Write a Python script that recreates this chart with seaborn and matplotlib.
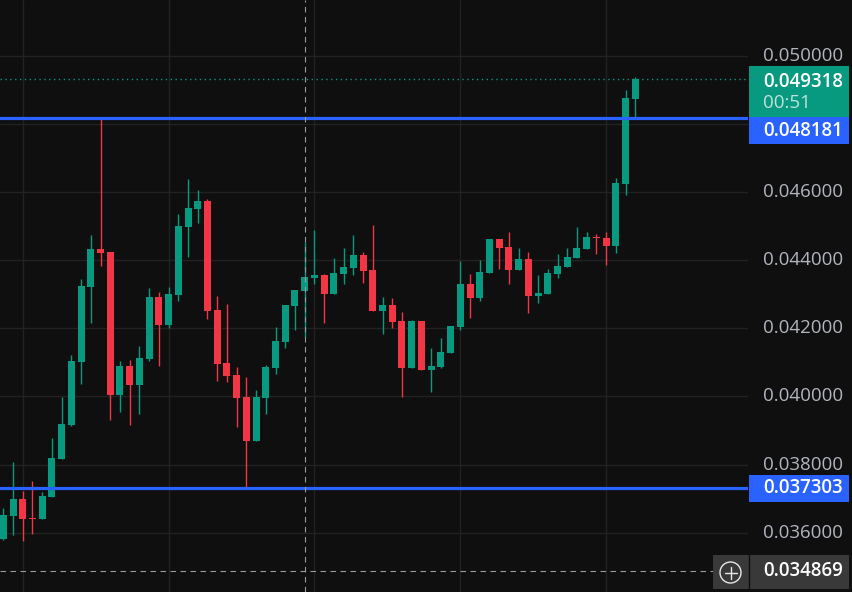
import matplotlib
matplotlib.use("Agg")
import matplotlib.pyplot as plt
from matplotlib.patches import Rectangle, Circle
import seaborn as sns
import numpy as np
import pandas as pd

# ---------------- data ----------------
opens = [0.035815, 0.036491, 0.036990, 0.036432, 0.036403, 0.037049, 0.038165, 0.039163, 0.041014, 0.043216,
         0.044332, 0.044244, 0.040044, 0.040896, 0.040338, 0.041102, 0.042923, 0.042100, 0.042981, 0.044978,
         0.045507, 0.045742, 0.042541, 0.040984, 0.040632, 0.039986, 0.038693, 0.039956, 0.040837, 0.041601,
         0.042658, 0.043099, 0.043481, 0.043569, 0.043011, 0.043598, 0.043774, 0.044156, 0.043716, 0.042511,
         0.042688, 0.042218, 0.040837, 0.042218, 0.040779, 0.040867, 0.041278, 0.042041, 0.043304, 0.042893,
         0.043627, 0.044626, 0.044391, 0.043716, 0.044039, 0.042952, 0.043011, 0.043598, 0.043804, 0.044068,
         0.044332, 0.044685, 0.044655, 0.044420, 0.046241, 0.048738]
highs = [0.036726, 0.038077, 0.037225, 0.037519, 0.037196, 0.038782, 0.039986, 0.041219, 0.043451, 0.044743,
         0.048181, 0.044244, 0.041043, 0.041072, 0.041484, 0.043187, 0.043069, 0.043216, 0.045360, 0.046388,
         0.046065, 0.045801, 0.042952, 0.042717, 0.040867, 0.040573, 0.040191, 0.040925, 0.042041, 0.042688,
         0.043128, 0.044538, 0.044890, 0.043598, 0.044068, 0.044362, 0.044743, 0.044244, 0.045037, 0.042923,
         0.042893, 0.042482, 0.042247, 0.042218, 0.041425, 0.041718, 0.042071, 0.043980, 0.043598, 0.044009,
         0.044626, 0.044626, 0.044832, 0.044362, 0.044244, 0.043569, 0.043745, 0.044185, 0.044362, 0.044978,
         0.044832, 0.044773, 0.044832, 0.046417, 0.049002, 0.049384]
lows = [0.035786, 0.035933, 0.035757, 0.035962, 0.036403, 0.037049, 0.038165, 0.039134, 0.040368, 0.042159,
        0.043833, 0.039310, 0.039545, 0.039163, 0.039486, 0.041043, 0.040896, 0.042012, 0.042805, 0.044097,
        0.045096, 0.042276, 0.040456, 0.040426, 0.039105, 0.037303, 0.038693, 0.039486, 0.040661, 0.041425,
        0.041953, 0.041748, 0.043304, 0.042159, 0.043011, 0.043304, 0.043569, 0.043334, 0.042511, 0.041836,
        0.042012, 0.039986, 0.040837, 0.040779, 0.040133, 0.040837, 0.041278, 0.041953, 0.042306, 0.042805,
        0.043627, 0.043745, 0.043304, 0.043716, 0.042453, 0.042746, 0.043011, 0.043481, 0.043804, 0.044068,
        0.044332, 0.044185, 0.043862, 0.044215, 0.045918, 0.048180]
closes = [0.036520, 0.036990, 0.036403, 0.036403, 0.037078, 0.038194, 0.039193, 0.041043, 0.043246, 0.044332,
          0.044215, 0.040044, 0.040896, 0.040338, 0.041131, 0.042923, 0.042100, 0.043011, 0.045008, 0.045536,
          0.045742, 0.042511, 0.040955, 0.040602, 0.039956, 0.038693, 0.039986, 0.040867, 0.041630, 0.042688,
          0.043128, 0.043510, 0.043569, 0.043011, 0.043627, 0.043804, 0.044156, 0.043686, 0.042511, 0.042688,
          0.042188, 0.040837, 0.042218, 0.040779, 0.040896, 0.041307, 0.042071, 0.043304, 0.042893, 0.043657,
          0.044626, 0.044362, 0.043716, 0.044039, 0.042952, 0.043040, 0.043627, 0.043833, 0.044097, 0.044362,
          0.044685, 0.044655, 0.044420, 0.046271, 0.048767, 0.049318]

y_ticks = [0.036, 0.038, 0.040, 0.042, 0.044, 0.046, 0.048, 0.050]
resistance = 0.048181
support = 0.037303
last_price = 0.049318
cross_price = 0.034869
countdown = "00:51"

# ---------------- style ----------------
BG = "#0f0f0f"
GRID = "#222222"
UP = "#089981"
DOWN = "#F23645"
BLUE = "#2962FF"
LABEL = "#B2B5BE"

sns.set_theme(style="dark", rc={"axes.facecolor": BG, "figure.facecolor": BG,
                                "axes.edgecolor": BG})
plt.rcParams["font.family"] = ["Open Sans", "DejaVu Sans"]

df = pd.DataFrame({"open": opens, "high": highs, "low": lows, "close": closes})
df["idx"] = np.arange(len(df))
df["up"] = df["close"] >= df["open"]

W, H = 852, 592
AX_W = 748
fig = plt.figure(figsize=(W / 100, H / 100), dpi=100)
ax = fig.add_axes([0, 0, AX_W / W, 1])

ymin, ymax = 0.034258, 0.051645
xmin, xmax = -0.339, 76.59
ax.set_xlim(xmin, xmax)
ax.set_ylim(ymin, ymax)
ppu = H / (ymax - ymin)  # pixels per price unit

# grid
for t in y_ticks:
    ax.axhline(t, color=GRID, lw=1.0, zorder=0)
for gx in [2, 17, 32, 47, 62]:
    ax.axvline(gx, color=GRID, lw=1.0, zorder=0)

# candles
colors = np.where(df["up"], UP, DOWN)
ax.vlines(df["idx"], df["low"], df["high"], colors=colors, lw=1.0, zorder=2)
body_bottom = np.minimum(df["open"], df["close"])
body_h = np.maximum(np.abs(df["close"] - df["open"]), 1.3 / ppu)
ax.bar(df["idx"], body_h, bottom=body_bottom, width=0.72, color=colors, linewidth=0, zorder=3)

# horizontal levels
ax.axhline(resistance, color=BLUE, lw=2.3, zorder=4)
ax.axhline(support, color=BLUE, lw=2.3, zorder=4)
ax.axhline(last_price, color=UP, lw=1.0, ls=(0, (1, 2.5)), zorder=1)

# crosshair
ax.axvline(31.0, color="#9a9a9a", lw=0.8, ls=(0, (5, 4)), zorder=5)
ax.plot([xmin, xmin + (713 / AX_W) * (xmax - xmin)], [cross_price, cross_price],
        color="#9a9a9a", lw=0.8, ls=(0, (5, 4)), zorder=5)

ax.set_xticks([])
ax.set_yticks([])
for s in ax.spines.values():
    s.set_visible(False)


# ---------------- right price scale ----------------
def fy(p):
    return (p - ymin) / (ymax - ymin)


def fx(px):
    return px / W


TX = fx(843)
FS = 13.5
for t in y_ticks:
    if abs(t - 0.048) < 1e-9:
        continue
    fig.text(TX, fy(t), f"{t:.6f}", color=LABEL, fontsize=FS, ha="right", va="center")

# last-price box (green) with countdown
top_g = 66
bot_g = 117
fig.patches.append(Rectangle((fx(749), 1 - bot_g / H), fx(849) - fx(749), (bot_g - top_g) / H,
                             transform=fig.transFigure, facecolor=UP, edgecolor="none", zorder=3))
fig.text(TX, 1 - 82 / H, f"{last_price:.6f}", color="white", fontsize=FS, fontweight="semibold",
         ha="right", va="center", zorder=4)
fig.text(fx(763), 1 - 103 / H, countdown, color="#bfe3da", fontsize=FS, ha="left", va="center", zorder=4)

# resistance box
fig.patches.append(Rectangle((fx(749), 1 - 144 / H), fx(849) - fx(749), 27 / H,
                             transform=fig.transFigure, facecolor=BLUE, edgecolor="none", zorder=3))
fig.text(TX, 1 - 131 / H, f"{resistance:.6f}", color="white", fontsize=FS, fontweight="semibold",
         ha="right", va="center", zorder=4)

# support box
fig.patches.append(Rectangle((fx(749), 1 - 502 / H), fx(849) - fx(749), 27 / H,
                             transform=fig.transFigure, facecolor=BLUE, edgecolor="none", zorder=3))
fig.text(TX, fy(support), f"{support:.6f}", color="white", fontsize=FS, fontweight="semibold",
         ha="right", va="center", zorder=4)

# crosshair price box
fig.patches.append(Rectangle((fx(713), 1 - 589 / H), fx(849) - fx(713), 34 / H,
                             transform=fig.transFigure, facecolor="#393939", edgecolor="none", zorder=3))
fig.lines.append(plt.Line2D([fx(748.5), fx(748.5)], [1 - 589 / H, 1 - 555 / H], transform=fig.transFigure,
                            color=BG, lw=1.0, zorder=4))
fig.text(TX, fy(cross_price), f"{cross_price:.6f}", color="white", fontsize=FS, fontweight="semibold",
         ha="right", va="center", zorder=4)
# plus-in-circle icon
cx, cy, r = 730.5, 572.5, 10.5
fig.patches.append(Circle((cx, H - cy), r, transform=None, facecolor="none", edgecolor="#e8e8e8", lw=1.0, zorder=5))
fig.lines.append(plt.Line2D([fx(cx - 6), fx(cx + 6)], [1 - cy / H, 1 - cy / H], transform=fig.transFigure,
                            color="#e8e8e8", lw=1.0, zorder=5))
fig.lines.append(plt.Line2D([fx(cx), fx(cx)], [1 - (cy - 6) / H, 1 - (cy + 6) / H], transform=fig.transFigure,
                            color="#e8e8e8", lw=1.0, zorder=5))

fig.savefig("out.png", dpi=100, facecolor=BG)
